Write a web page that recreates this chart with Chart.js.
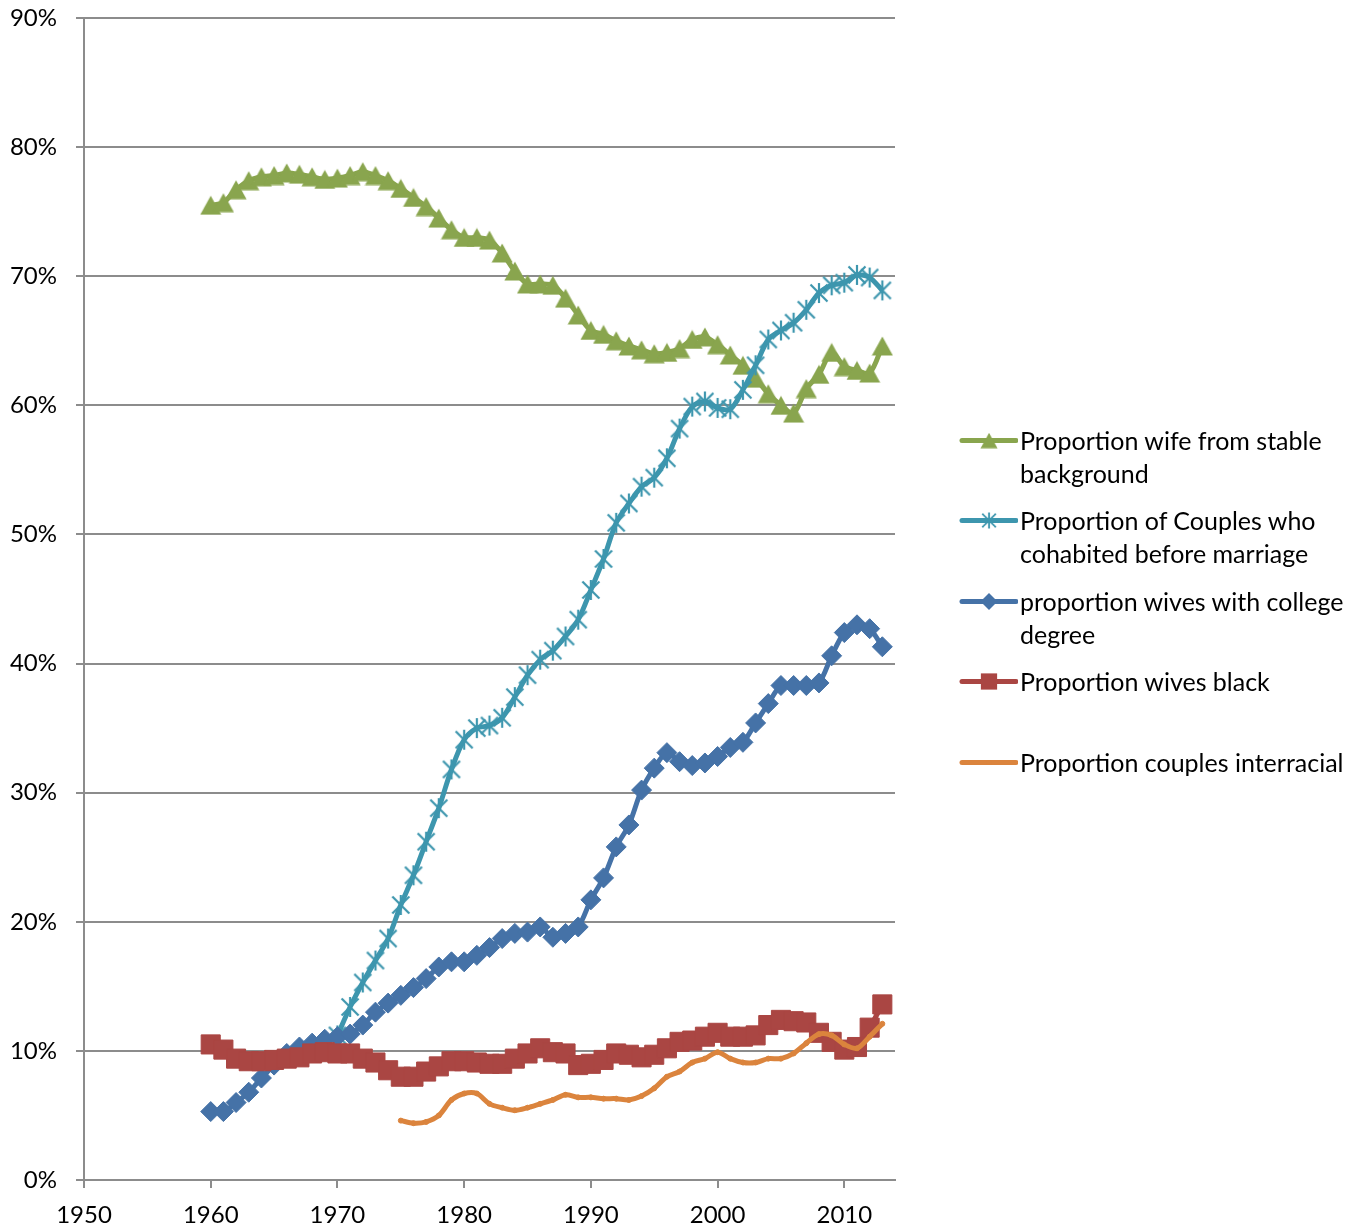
<!DOCTYPE html>
<html>
<head>
<meta charset="utf-8">
<title>Marriage trends 1960-2013</title>
<script src="https://cdn.jsdelivr.net/npm/chart.js"></script>
<style>
  html, body { margin: 0; padding: 0; background: #fff; }
  #wrap { position: relative; width: 1354px; height: 1229px; }
  #legend { position: absolute; left: 958px; top: 0; font-family: Lato, sans-serif; font-size: 25px; color: #000; }
  .item { position: absolute; left: 0; display: flex; align-items: flex-start; white-space: nowrap; }
  .item canvas { flex: none; }
  .item span { line-height: 33px; margin-left: 2px; }
</style>
</head>
<body>
<div id="wrap">
  <canvas id="trends"></canvas>
  <div id="legend"></div>
</div>
<script>
// ==========================
// Data (percent)
// ==========================
const years = [
  1960, 1961, 1962, 1963, 1964, 1965, 1966, 1967, 1968, 1969,
  1970, 1971, 1972, 1973, 1974, 1975, 1976, 1977, 1978, 1979,
  1980, 1981, 1982, 1983, 1984, 1985, 1986, 1987, 1988, 1989,
  1990, 1991, 1992, 1993, 1994, 1995, 1996, 1997, 1998, 1999,
  2000, 2001, 2002, 2003, 2004, 2005, 2006, 2007, 2008, 2009,
  2010, 2011, 2012, 2013
];

const stableBackground = [
  75.5, 75.7, 76.7, 77.4, 77.7, 77.8, 78.0, 77.9, 77.7, 77.5,
  77.6, 77.8, 78.1, 77.8, 77.4, 76.8, 76.1, 75.4, 74.5, 73.6,
  73.0, 73.0, 72.8, 71.8, 70.4, 69.4, 69.4, 69.3, 68.3, 67.0,
  65.8, 65.5, 65.0, 64.6, 64.3, 64.0, 64.1, 64.4, 65.1, 65.3,
  64.7, 63.9, 63.1, 62.1, 60.9, 60.0, 59.4, 61.3, 62.4, 64.1,
  63.0, 62.7, 62.5, 64.6
];

const cohabitedFirst = [
  null, null, null, null, null, null, null, null, null, null,
  11.2, 13.4, 15.3, 17.0, 18.7, 21.3, 23.6, 26.2, 28.8, 31.8,
  34.1, 35.0, 35.2, 35.8, 37.4, 39.1, 40.3, 41.0, 42.1, 43.4,
  45.7, 48.1, 50.9, 52.4, 53.7, 54.4, 55.9, 58.2, 59.9, 60.3,
  59.8, 59.7, 61.2, 63.1, 65.1, 65.8, 66.4, 67.4, 68.7, 69.3,
  69.5, 70.1, 69.9, 68.9
];

const collegeDegree = [
  5.3, 5.3, 6.0, 6.8, 7.9, 8.9, 9.8, 10.3, 10.6, 10.9,
  11.1, 11.3, 12.0, 13.0, 13.7, 14.3, 14.9, 15.6, 16.5, 16.9,
  16.9, 17.4, 18.0, 18.7, 19.1, 19.2, 19.6, 18.8, 19.1, 19.6,
  21.7, 23.4, 25.8, 27.5, 30.2, 31.9, 33.1, 32.4, 32.1, 32.3,
  32.8, 33.5, 33.9, 35.4, 36.9, 38.3, 38.3, 38.3, 38.5, 40.6,
  42.4, 43.0, 42.7, 41.3
];

const wivesBlack = [
  10.5, 10.1, 9.4, 9.2, 9.2, 9.3, 9.4, 9.5, 9.8, 9.9,
  9.8, 9.8, 9.4, 9.1, 8.5, 8.0, 8.0, 8.4, 8.8, 9.2,
  9.2, 9.1, 9.0, 9.0, 9.4, 9.8, 10.2, 9.9, 9.8, 8.9,
  9.0, 9.3, 9.8, 9.7, 9.5, 9.7, 10.2, 10.7, 10.8, 11.1,
  11.4, 11.1, 11.1, 11.2, 12.0, 12.4, 12.3, 12.2, 11.4, 10.7,
  10.1, 10.3, 11.8, 13.6
];

const interracial = [
  null, null, null, null, null, null, null, null, null, null,
  null, null, null, null, null, 4.6, 4.4, 4.5, 5.0, 6.2,
  6.7, 6.7, 5.9, 5.6, 5.4, 5.6, 5.9, 6.2, 6.6, 6.4,
  6.4, 6.3, 6.3, 6.2, 6.5, 7.1, 8.0, 8.4, 9.1, 9.4,
  9.9, 9.4, 9.1, 9.1, 9.4, 9.4, 9.8, 10.6, 11.3, 11.2,
  10.5, 10.2, 11.1, 12.1
];

const xTicks = [1950, 1960, 1970, 1980, 1990, 2000, 2010];
const yTicks = [0, 10, 20, 30, 40, 50, 60, 70, 80, 90];

const seriesLabels = [
  ['Proportion wife from stable', 'background'],
  ['Proportion of Couples who', 'cohabited before marriage'],
  ['proportion wives with college', 'degree'],
  ['Proportion wives black'],
  ['Proportion couples interracial']
];

// ==========================
// Marker shapes
// ==========================
const GREEN = '#89A54E', CYAN = '#3D96AE', BLUE = '#4572A7', RED = '#AA4643', ORANGE = '#DB843D';

function triangleMarker(color) {
  const c = document.createElement('canvas');
  c.width = 22; c.height = 20;
  const g = c.getContext('2d');
  g.fillStyle = color;
  g.beginPath();
  g.moveTo(11, 0.5);
  g.lineTo(21.5, 19.5);
  g.lineTo(0.5, 19.5);
  g.closePath();
  g.fill();
  return c;
}

function starMarker(color) {
  const c = document.createElement('canvas');
  c.width = 22; c.height = 22;
  const g = c.getContext('2d');
  g.strokeStyle = color;
  g.lineWidth = 2.2;
  g.beginPath();
  g.moveTo(2.5, 2.5); g.lineTo(19.5, 19.5);
  g.moveTo(19.5, 2.5); g.lineTo(2.5, 19.5);
  g.moveTo(11, 1); g.lineTo(11, 21);
  g.stroke();
  return c;
}

const triImg = triangleMarker(GREEN);
const starImg = starMarker(CYAN);

function toPoints(vals) {
  return years.map((yr, i) => ({ x: yr, y: vals[i] })).filter(p => p.y !== null);
}

function lineSet(label, vals, color, style, radius, order, width) {
  return {
    label: label.join(' '),
    data: toPoints(vals),
    borderColor: color,
    backgroundColor: color,
    borderWidth: width,
    pointStyle: style,
    pointRadius: radius,
    pointBackgroundColor: color,
    pointBorderColor: color,
    pointBorderWidth: 1,
    tension: 0.3,
    order: order
  };
}

const datasets = [
  lineSet(seriesLabels[0], stableBackground, GREEN, triImg, 11, 5, 5),
  lineSet(seriesLabels[1], cohabitedFirst, CYAN, starImg, 11, 4, 5),
  lineSet(seriesLabels[2], collegeDegree, BLUE, 'rectRot', 10, 3, 5),
  lineSet(seriesLabels[3], wivesBlack, RED, 'rect', 13.5, 2, 5),
  lineSet(seriesLabels[4], interracial, ORANGE, 'circle', 2.5, 1, 5)
];

// ==========================
// Chart
// ==========================
Chart.defaults.font.family = 'Lato, sans-serif';
Chart.defaults.font.size = 24;
Chart.defaults.color = '#000';

const gridGrey = '#8C8C8C';

new Chart(document.getElementById('trends'), {
  type: 'line',
  data: { datasets: datasets },
  options: {
    responsive: true,
    maintainAspectRatio: false,
    animation: false,
    events: [],
    layout: { padding: { top: 18, right: 459, bottom: 0, left: 0 } },
    plugins: {
      legend: { display: false },
      tooltip: { enabled: false }
    },
    scales: {
      x: {
        type: 'linear',
        min: 1950,
        max: 2014,
        afterBuildTicks: s => { s.ticks = xTicks.map(v => ({ value: v })); },
        afterFit: s => { s.height = 49; },
        ticks: { padding: 13, maxRotation: 0, callback: v => String(v) },
        grid: { drawOnChartArea: false, drawTicks: true, tickLength: 8, color: gridGrey, lineWidth: 2 },
        border: { display: true, color: gridGrey, width: 2 }
      },
      y: {
        min: 0,
        max: 90,
        afterBuildTicks: s => { s.ticks = yTicks.map(v => ({ value: v })); },
        // fixed axis width; the wide label gap should not push the plot down
        afterFit: s => { s.width = 84; s.paddingTop = 0; s.paddingBottom = 0; },
        ticks: { padding: 19, callback: v => v + '%' },
        grid: { drawTicks: true, tickLength: 8, color: gridGrey, lineWidth: 2 },
        border: { display: true, color: gridGrey, width: 2 }
      }
    }
  }
});

// ==========================
// Legend (HTML, wrapped labels)
// ==========================
function drawSymbol(cv, ds) {
  const g = cv.getContext('2d');
  const y = 16.5;
  g.strokeStyle = ds.borderColor;
  g.lineWidth = ds.borderWidth;
  g.lineCap = 'round';
  g.beginPath();
  g.moveTo(4, y); g.lineTo(58, y);
  g.stroke();
  const st = ds.pointStyle, cx = 31, r = ds.pointRadius;
  g.fillStyle = ds.pointBackgroundColor;
  if (st instanceof HTMLCanvasElement) {
    g.drawImage(st, cx - st.width * 0.4, y - st.height * 0.4, st.width * 0.8, st.height * 0.8);
  } else if (st === 'rect') {
    const h = r * Math.SQRT1_2 * 0.85;
    g.fillRect(cx - h, y - h, 2 * h, 2 * h);
  } else if (st === 'rectRot') {
    const h = r * 0.85;
    g.beginPath();
    g.moveTo(cx - h, y); g.lineTo(cx, y - h); g.lineTo(cx + h, y); g.lineTo(cx, y + h);
    g.closePath(); g.fill();
  } else {
    g.beginPath(); g.arc(cx, y, r, 0, Math.PI * 2); g.fill();
  }
}

const legendEl = document.getElementById('legend');
datasets.forEach((ds, i) => {
  const item = document.createElement('div');
  item.className = 'item';
  item.style.top = (423.5 + i * 80.5) + 'px';
  const cv = document.createElement('canvas');
  cv.width = 60; cv.height = 33;
  drawSymbol(cv, ds);
  const span = document.createElement('span');
  span.innerHTML = seriesLabels[i].map(t => t.replace(/&/g, '&amp;').replace(/</g, '&lt;')).join('<br>');
  item.appendChild(cv);
  item.appendChild(span);
  legendEl.appendChild(item);
});
</script>
</body>
</html>
